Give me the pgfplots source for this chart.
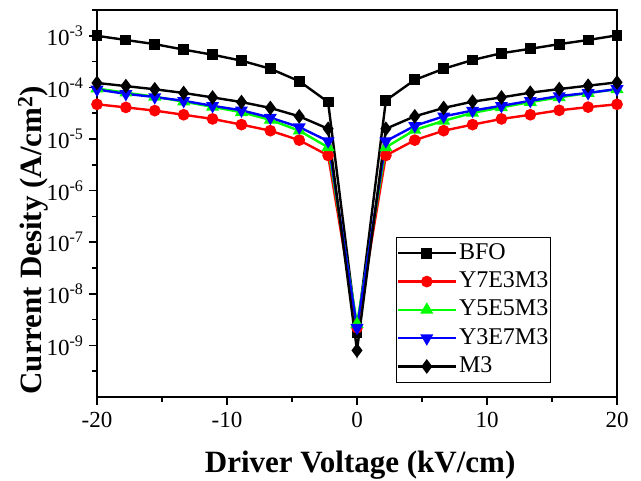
\documentclass[border=0pt]{standalone}
\usepackage{fontspec}
\setmainfont{Liberation Serif}
\usepackage{pgfplots}
\usepackage{pgfplotstable}
\pgfplotsset{compat=1.18}

\pgfplotstableread{
x        BFO      Y7E3M3   Y5E5M3   Y3E7M3   M3
-20      1.0e-3   4.7e-5   9.5e-5   9.1e-5   1.22e-4
-17.778  8.3e-4   4.1e-5   7.9e-5   7.5e-5   1.06e-4
-15.556  6.9e-4   3.55e-5  6.6e-5   6.5e-5   9.2e-5
-13.333  5.4e-4   2.95e-5  5.3e-5   5.5e-5   7.8e-5
-11.111  4.3e-4   2.45e-5  4.2e-5   4.4e-5   6.4e-5
-8.889   3.3e-4   1.9e-5   3.3e-5   3.6e-5   5.2e-5
-6.667   2.3e-4   1.45e-5  2.35e-5  2.6e-5   4.0e-5
-4.444   1.32e-4  9.5e-6   1.45e-5  1.7e-5   2.75e-5
-2.222   5.2e-5   4.8e-6   6.9e-6   9.1e-6   1.58e-5
0        1.8e-9   2.2e-9   2.6e-9   2.2e-9   8.0e-10
2.222    5.6e-5   4.8e-6   6.9e-6   9.1e-6   1.58e-5
4.444    1.4e-4   9.5e-6   1.5e-5   1.8e-5   2.75e-5
6.667    2.3e-4   1.45e-5  2.25e-5  2.75e-5  4.0e-5
8.889    3.4e-4   1.9e-5   3.2e-5   3.55e-5  5.3e-5
11.111   4.6e-4   2.45e-5  4.1e-5   4.4e-5   6.4e-5
13.333   5.6e-4   2.95e-5  5.2e-5   5.5e-5   7.9e-5
15.556   6.9e-4   3.6e-5   6.4e-5   6.8e-5   9.3e-5
17.778   8.3e-4   4.15e-5  7.8e-5   7.8e-5   1.08e-4
20       1.02e-3  4.7e-5   9.2e-5   9.3e-5   1.25e-4
}\jdata

\begin{document}
\begin{tikzpicture}
\begin{axis}[
  scale only axis,
  width=520pt, height=387pt,
  ymode=log,
  xmin=-20, xmax=20,
  ymin=1e-10, ymax=3.1623e-3,
  xtick={-20,-10,0,10,20},
  xticklabels={-20,-10,0,10,20},
  minor xtick={-15,-5,5,15},
  ytick={1e-9,1e-8,1e-7,1e-6,1e-5,1e-4,1e-3},
  yticklabels={10\textsuperscript{-9},10\textsuperscript{-8},10\textsuperscript{-7},10\textsuperscript{-6},10\textsuperscript{-5},10\textsuperscript{-4},10\textsuperscript{-3}},
  minor ytick={3.1623e-10,3.1623e-9,3.1623e-8,3.1623e-7,3.1623e-6,3.1623e-5,3.1623e-4,3.1623e-3},
  xtick pos=bottom, ytick pos=left,
  tick align=outside,
  major tick length=8pt, minor tick length=5pt,
  every tick/.style={line width=1.6pt, black},
  axis line style={line width=1.8pt},
  tick label style={font=\fontsize{23}{26}\selectfont},
  xticklabel style={yshift=-4pt},
  yticklabel style={xshift=-2pt},
  xlabel={\textbf{Driver Voltage (kV/cm)}},
  ylabel={\textbf{Current Desity (A/cm\textsuperscript{2})}},
  label style={font=\fontsize{31}{34}\selectfont},
  xlabel style={at={(axis description cs:0.506,-0.176)}, anchor=center},
  ylabel style={at={(axis description cs:-0.123,0.405)}, anchor=center},
  legend image code/.code={
    \draw[mark repeat=2, mark phase=2] plot coordinates {(0pt,0pt) (29pt,0pt) (58pt,0pt)};},
  legend style={at={(0.575,0.036)}, anchor=south west,
    font=\fontsize{24}{26}\selectfont,
    draw=black, line width=1.2pt, row sep=2.3pt,
    inner xsep=0pt, inner ysep=3pt,
    nodes={inner sep=2pt, text height=17pt, text depth=5pt}},
  legend cell align=left,
  every axis plot/.append style={line width=2.4pt},
  clip=false,
]
\addplot[black, mark=square*, mark size=4.2pt] table[x=x, y=BFO] {\jdata};
\addplot[red, mark=*, mark size=4.6pt] table[x=x, y=Y7E3M3] {\jdata};
\addplot[green, mark=triangle*, mark size=5.2pt] table[x=x, y=Y5E5M3] {\jdata};
\addplot[blue, mark=triangle*, mark size=5.2pt, mark options={rotate=180}] table[x=x, y=Y3E7M3] {\jdata};
\addplot[black, mark=diamond*, mark size=5.4pt] table[x=x, y=M3] {\jdata};
\legend{BFO,Y7E3M3,Y5E5M3,Y3E7M3,M3}
\end{axis}
\pgfresetboundingbox
\path (current axis.south west) ++(-97pt,-83pt) rectangle ([shift={(24pt,10pt)}]current axis.north east);
\end{tikzpicture}
\end{document}
